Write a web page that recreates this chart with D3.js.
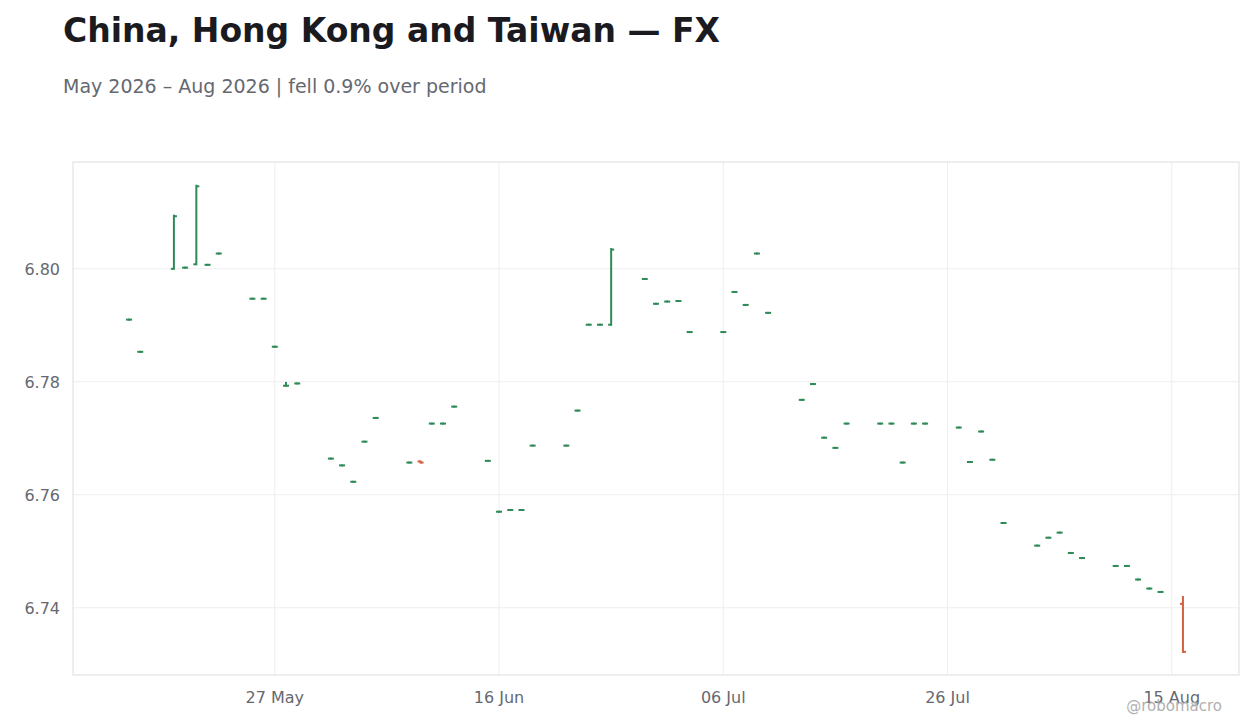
<!DOCTYPE html>
<html><head><meta charset="utf-8">
<script src="https://cdn.jsdelivr.net/npm/d3@7"></script>
<style>body{margin:0;background:#fff;font-family:"DejaVu Sans",sans-serif}</style></head>
<body><svg id="c" width="1260" height="728"></svg>
<script>
const dates=["2026-05-14","2026-05-15","2026-05-18","2026-05-19","2026-05-20","2026-05-21","2026-05-22","2026-05-25","2026-05-26","2026-05-27","2026-05-28","2026-05-29","2026-06-01","2026-06-02","2026-06-03","2026-06-04","2026-06-05","2026-06-08","2026-06-09","2026-06-10","2026-06-11","2026-06-12","2026-06-15","2026-06-16","2026-06-17","2026-06-18","2026-06-19","2026-06-22","2026-06-23","2026-06-24","2026-06-25","2026-06-26","2026-06-29","2026-06-30","2026-07-01","2026-07-02","2026-07-03","2026-07-06","2026-07-07","2026-07-08","2026-07-09","2026-07-10","2026-07-13","2026-07-14","2026-07-15","2026-07-16","2026-07-17","2026-07-20","2026-07-21","2026-07-22","2026-07-23","2026-07-24","2026-07-27","2026-07-28","2026-07-29","2026-07-30","2026-07-31","2026-08-03","2026-08-04","2026-08-05","2026-08-06","2026-08-07","2026-08-10","2026-08-11","2026-08-12","2026-08-13","2026-08-14","2026-08-16"];
const closes=[6.7910,6.7853,6.8093,6.8002,6.8146,6.8007,6.8027,6.7947,6.7947,6.7862,6.7793,6.7797,6.7664,6.7652,6.7623,6.7694,6.7736,6.7657,6.7657,6.7726,6.7726,6.7756,6.7660,6.7570,6.7573,6.7573,6.7687,6.7687,6.7749,6.7901,6.7901,6.8034,6.7982,6.7938,6.7942,6.7943,6.7888,6.7888,6.7959,6.7936,6.8027,6.7922,6.7768,6.7796,6.7701,6.7683,6.7726,6.7726,6.7726,6.7657,6.7726,6.7726,6.7719,6.7658,6.7712,6.7662,6.7550,6.7510,6.7524,6.7533,6.7497,6.7488,6.7474,6.7474,6.7450,6.7434,6.7428,6.7322];
const opens=closes.map((c,i)=>({2:6.8000,4:6.8008,18:6.7659,31:6.7901,67:6.7407})[i]??c);
const highs=closes.map((c,i)=>({2:6.8094,4:6.8147,10:6.7798,31:6.8035,67:6.7419})[i]??Math.max(c,opens[i]));
const lows=closes.map((c,i)=>Math.min(c,opens[i]));
const yTicks=[6.74,6.76,6.78,6.80];
const xTicks=["2026-05-27","2026-06-16","2026-07-06","2026-07-26","2026-08-15"];

const svg=d3.select("#c");
const p=d3.timeParse("%Y-%m-%d");
const L=73,R=1239,T=162,B=675;
const x=d3.scaleTime().domain([p("2026-05-09"),p("2026-08-21")]).range([L,R]);
const y=d3.scaleLinear().domain([6.7281,6.8189]).range([B,T]);
svg.append("text").attr("x",63).attr("y",42).attr("font-size",33).attr("font-weight","bold").attr("fill","#1a1a1f").text("China, Hong Kong and Taiwan — FX");
svg.append("text").attr("x",63).attr("y",93).attr("font-size",19).attr("fill","#666870").text("May 2026 – Aug 2026 | fell 0.9% over period");
const g=svg.append("g");
g.selectAll(".gy").data(yTicks).join("line").attr("x1",L).attr("x2",R).attr("y1",d=>y(d)).attr("y2",d=>y(d)).attr("stroke","#eeeeee");
g.selectAll(".gx").data(xTicks).join("line").attr("y1",T).attr("y2",B).attr("x1",d=>x(p(d))).attr("x2",d=>x(p(d))).attr("stroke","#eeeeee");
g.append("rect").attr("x",L).attr("y",T).attr("width",R-L).attr("height",B-T).attr("fill","none").attr("stroke","#dddddd");
const fmt=d3.timeFormat("%d %b");
g.selectAll(".xl").data(xTicks).join("text").attr("x",d=>x(p(d))).attr("y",703).attr("text-anchor","middle").attr("font-size",16).attr("fill","#666870").text(d=>fmt(p(d)));
g.selectAll(".yl").data(yTicks).join("text").attr("x",60).attr("y",d=>y(d)+6).attr("text-anchor","end").attr("font-size",16).attr("fill","#666870").text(d=>d.toFixed(2));
const col=i=>closes[i]>=opens[i]?"#2e8b57":"#d0603f";
const bars=g.selectAll(".b").data(dates).join("g");
bars.append("line").attr("x1",d=>x(p(d))).attr("x2",d=>x(p(d))).attr("y1",(d,i)=>y(highs[i])-1).attr("y2",(d,i)=>y(lows[i])+1).attr("stroke",(d,i)=>col(i)).attr("stroke-width",2);
bars.append("line").attr("x1",d=>x(p(d))-3).attr("x2",d=>x(p(d))).attr("y1",(d,i)=>y(opens[i])).attr("y2",(d,i)=>y(opens[i])).attr("stroke",(d,i)=>col(i)).attr("stroke-width",2);
bars.append("line").attr("x1",d=>x(p(d))).attr("x2",d=>x(p(d))+3).attr("y1",(d,i)=>y(closes[i])).attr("y2",(d,i)=>y(closes[i])).attr("stroke",(d,i)=>col(i)).attr("stroke-width",2);
svg.append("text").attr("x",1222).attr("y",711).attr("text-anchor","end").attr("font-size",15).attr("fill","#b0b0b0").text("@robomacro");
</script></body></html>
